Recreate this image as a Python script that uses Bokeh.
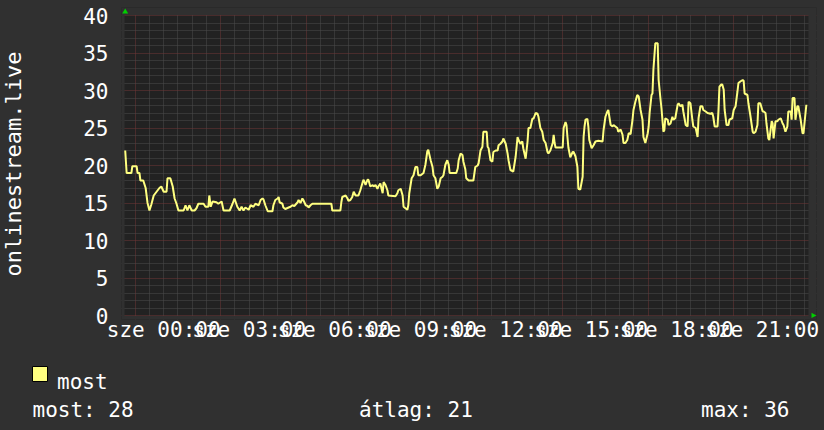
import math
from bokeh.plotting import figure
from bokeh.layouts import row, column
from bokeh.models import Range1d, FixedTicker
from bokeh.core.properties import value
from bokeh.embed import file_html
from bokeh.resources import INLINE

# ---------------- data ----------------
y_title = "onlinestream.live"
series_name = "most"
label_hours = [0, 3, 6, 9, 12, 15, 18, 21]
x_tick_labels = ["sze 00:00", "sze 03:00", "sze 06:00", "sze 09:00",
                 "sze 12:00", "sze 15:00", "sze 18:00", "sze 21:00"]
y_ticks = [0, 5, 10, 15, 20, 25, 30, 35, 40]
stat_names = ["most", "átlag", "max"]
stat_values = [28, 21, 36]

# minutes relative to Wednesday 00:00 (negative = previous evening)
minutes = [
    -81, -78, -68, -66, -57, -55, -51, -49, -43, -38, -34, -30, -26, -21, -15, -9, -5, 0, 6, 8,
    14, 19, 23, 27, 31, 42, 46, 50, 54, 59, 65, 69, 73, 84, 88, 94, 96, 99, 103, 111,
    115, 122, 126, 139, 145, 149,
    155, 160, 164, 168, 172, 179, 183, 189, 193, 200, 204, 208, 210, 214, 219, 229, 231, 235, 240, 242,
    244, 250, 252, 256, 263, 267, 271, 275, 282, 284, 288, 292, 294, 299, 303, 305, 309, 313, 353, 355,
    372, 374, 376, 383, 387, 389,
    393, 397, 400, 404, 410, 414, 419, 421, 425, 429, 431, 435, 440, 442, 446, 450, 452, 456, 461, 463,
    467, 471, 473, 488, 492, 494, 499, 503, 505, 509, 513, 515, 517, 522, 526, 530, 534, 536, 541, 547,
    551, 555, 557, 562, 566, 568, 572, 576, 579, 583, 587, 589, 593, 597, 600, 602, 616, 619, 621, 625,
    629, 631, 635,
    637, 642, 652, 656, 661, 663, 667, 671, 673, 680, 682, 684, 688, 692, 694, 699, 703, 705, 709, 713,
    715, 720, 724, 726, 730, 736, 741, 745, 747, 751, 755, 757, 762, 766, 768, 772, 776, 779, 783, 787,
    789, 793, 797, 800, 804, 808, 810, 814, 819, 821, 823, 825, 840, 842, 846, 848, 850, 852, 856, 861,
    863, 867, 871, 873, 877, 882, 884, 886,
    888, 892, 894, 896, 901, 905, 909, 915, 924, 926, 930, 934, 936, 941, 945, 947, 951, 955, 957, 962,
    966, 968, 972, 976, 979, 983, 987, 989, 993, 997, 1000, 1004, 1008, 1010, 1014, 1019, 1021, 1023, 1027, 1029,
    1031, 1035, 1040, 1042, 1046, 1048, 1050, 1052, 1054, 1056, 1061, 1063, 1067, 1071, 1073, 1077, 1082, 1084, 1088, 1092,
    1094, 1099, 1103, 1105, 1109, 1113, 1115, 1120,
    1124, 1126, 1130, 1134, 1136, 1141, 1145, 1151, 1155, 1157, 1160, 1166, 1168, 1170, 1174, 1176, 1179, 1181, 1185, 1189,
    1191, 1197, 1200, 1204, 1208, 1210, 1214, 1219, 1221, 1223, 1229, 1231, 1235, 1240, 1242, 1246, 1250, 1252, 1256, 1261,
    1263, 1267, 1269, 1273, 1275, 1280, 1282, 1284, 1288, 1292, 1294, 1299, 1303, 1305, 1309, 1313, 1315, 1320, 1322, 1324,
    1328, 1330, 1334, 1336, 1341, 1345, 1347, 1349, 1353,
]
values = [
    22.0, 19.0, 19.0, 19.9, 19.9, 19.0, 19.0, 18.0, 18.0, 17.0, 15.0, 14.0, 14.8, 16.0, 16.5, 17.0, 17.2, 16.5, 16.5, 18.3,
    18.3, 17.2, 15.6, 14.9, 14.0, 14.0, 14.7, 14.0, 14.7, 14.0, 14.0, 14.3, 14.9, 14.9, 14.5, 14.5, 16.0, 14.5, 15.2, 15.1,
    14.9, 15.2, 14.0, 14.0, 14.9, 15.6,
    14.5, 14.0, 14.5, 14.0, 14.4, 14.1, 14.7, 14.5, 14.9, 14.7, 15.4, 15.6, 15.5, 14.7, 13.9, 13.9, 14.7, 15.4, 15.6, 15.8,
    15.1, 14.9, 14.4, 14.2, 14.4, 14.5, 14.7, 14.6, 15.1, 15.4, 15.0, 15.6, 15.4, 14.7, 14.6, 14.4, 14.7, 14.9, 14.9, 14.0,
    14.0, 15.1, 15.8, 16.0, 15.6, 15.3,
    15.4, 15.8, 16.5, 16.0, 16.0, 16.7, 17.8, 18.1, 17.4, 18.1, 18.1, 17.2, 17.4, 17.2, 17.4, 16.9, 17.2, 17.6, 16.3, 17.8,
    17.4, 16.7, 16.0, 15.9, 16.3, 16.7, 16.9, 16.0, 14.5, 14.3, 14.1, 14.7, 16.3, 18.3, 18.7, 19.8, 19.8, 18.7, 18.7, 19.0,
    20.1, 21.9, 22.1, 20.7, 19.8, 18.7, 18.3, 16.9, 17.2, 18.3, 18.5, 18.7, 20.1, 20.7, 20.1, 19.0, 19.0, 19.6, 20.7, 21.6,
    21.4, 20.5, 19.5,
    18.3, 18.0, 18.0, 19.8, 20.0, 20.3, 22.0, 22.5, 24.5, 24.5, 22.5, 22.3, 20.7, 20.5, 21.8, 22.0, 22.0, 22.7, 22.9, 23.2,
    23.6, 22.9, 21.6, 20.7, 19.4, 19.2, 21.2, 23.8, 23.4, 22.9, 23.2, 22.3, 20.9, 23.2, 25.0, 25.0, 26.2, 26.3, 27.0, 26.9,
    26.5, 25.0, 24.5, 23.4, 23.0, 21.8, 21.6, 22.0, 23.0, 24.1, 23.0, 22.4, 22.4, 25.0, 25.8, 25.4, 23.8, 22.4, 21.1, 21.8,
    21.8, 21.2, 19.8, 16.9, 16.8, 18.5, 23.8, 25.2,
    26.1, 26.2, 25.2, 23.4, 22.3, 22.7, 23.2, 23.3, 23.2, 24.7, 26.5, 27.2, 27.4, 25.4, 25.2, 25.4, 25.2, 25.0, 24.5, 24.8,
    24.1, 23.0, 23.0, 23.4, 24.3, 24.2, 26.1, 27.4, 28.5, 29.4, 29.2, 27.4, 26.1, 23.8, 23.0, 24.3, 25.2, 27.0, 29.4, 29.6,
    32.8, 36.3, 36.3, 31.4, 28.8, 27.6, 26.1, 24.5, 24.7, 26.3, 26.1, 25.4, 25.6, 26.5, 26.1, 26.3, 28.1, 28.3, 27.9, 28.1,
    27.2, 25.4, 25.2, 28.5, 28.3, 26.1, 25.2, 25.0,
    23.8, 26.3, 27.9, 27.9, 27.4, 27.2, 27.0, 26.9, 27.0, 26.5, 25.2, 25.2, 27.4, 30.5, 30.8, 30.8, 30.1, 27.4, 25.4, 25.4,
    26.1, 26.3, 27.4, 27.9, 29.9, 31.0, 31.2, 31.4, 31.3, 29.6, 29.4, 28.3, 26.7, 24.5, 24.3, 24.5, 25.4, 28.3, 28.3, 27.2,
    27.2, 27.0, 25.6, 23.6, 23.4, 25.9, 25.6, 23.6, 25.9, 25.9, 26.1, 26.3, 25.6, 25.4, 24.5, 25.2, 27.2, 27.2, 26.1, 29.0,
    29.0, 26.1, 27.9, 27.9, 26.1, 24.3, 24.3, 25.6, 28.1,
]

# ---------------- layout / style ----------------
W, H = 824, 430
TITLE_W = 27          # strip holding the vertical title
TOP_H = 345           # height of the chart row; the legend strip fills the rest
LEG_H = H - TOP_H
# plotting area of the graph (page pixels) and the slightly larger drawing frame
PA_L, PA_R, PA_T, PA_B = 124, 808, 15, 315
FR_L, FR_R, FR_T, FR_B = 121, 816, 7, 319
X0, X1 = -82.5, 1357.5      # minutes shown across the plotting area
Y0, Y1 = 0, 40
FONT = "DejaVu Sans Mono"
FS = "21px"
TITLE_FS = "22px"
BG = "#303030"
PLOT_BG = "#222222"
MINOR_GRID = "#4c4c4c"
MAJOR_GRID = "#703636"
LINE_COLOR = "#ffff80"
ARROW = "#00d000"


def dx(page_x):
    return X0 + (page_x - PA_L) * (X1 - X0) / (PA_R - PA_L)


def dy(page_y):
    return Y0 + (PA_B - page_y) * (Y1 - Y0) / (PA_B - PA_T)


def strip_fig(w, h, top=0, bottom=0):
    f = figure(width=w, height=h, output_backend="svg", toolbar_location=None,
               x_range=Range1d(0, w), y_range=Range1d(0, h - top - bottom),
               x_axis_location=None, y_axis_location=None,
               min_border_left=0, min_border_right=0,
               min_border_top=top, min_border_bottom=bottom,
               background_fill_alpha=0, border_fill_alpha=0, outline_line_color=None)
    f.grid.visible = False
    return f


# ---- main chart ----
XL, XR, YB, YT = dx(FR_L), dx(FR_R), dy(FR_B), dy(FR_T)
p = figure(width=W - TITLE_W, height=TOP_H, output_backend="svg", toolbar_location=None,
           x_range=Range1d(XL, XR), y_range=Range1d(YB, YT),
           background_fill_color=PLOT_BG, border_fill_alpha=0,
           min_border_left=FR_L - TITLE_W, min_border_right=W - FR_R,
           min_border_top=FR_T, min_border_bottom=TOP_H - FR_B,
           outline_line_color=None)

x_major_grid = [m for m in range(-60, int(X1) + 1, 180)]
x_minor_grid = [m for m in range(-60, int(X1) + 1, 30) if m not in x_major_grid]
y_major_grid = list(y_ticks)
y_minor_grid = [v for v in range(0, 41) if v not in y_major_grid]

p.xgrid.ticker = FixedTicker(ticks=x_major_grid, minor_ticks=x_minor_grid)
p.ygrid.ticker = FixedTicker(ticks=y_major_grid, minor_ticks=y_minor_grid)
for g in (p.xgrid, p.ygrid):
    g.grid_line_color = MAJOR_GRID
    g.grid_line_dash = "1 1"
    g.grid_line_width = 1
    g.minor_grid_line_color = MINOR_GRID
    g.minor_grid_line_dash = "1 1"
    g.minor_grid_line_width = 1

p.xaxis.ticker = FixedTicker(ticks=[h * 60 for h in label_hours])
p.xaxis.major_label_overrides = {h * 60: lab for h, lab in zip(label_hours, x_tick_labels)}
p.yaxis.ticker = FixedTicker(ticks=y_ticks)
for ax in (p.xaxis, p.yaxis):
    ax.axis_line_color = None
    ax.major_tick_line_color = None
    ax.minor_tick_line_color = None
    ax.major_tick_out = 0
    ax.major_tick_in = 0
    ax.minor_tick_out = 0
    ax.minor_tick_in = 0
    ax.major_label_text_font = FONT
    ax.major_label_text_font_size = FS
    ax.major_label_text_color = "white"
p.xaxis.major_label_standoff = 2 - (FR_B - PA_B)
p.yaxis.major_label_standoff = 16 - (PA_L - FR_L)

# canvas-coloured margins around the plotting area (inside the drawing frame)
half = 0.5
p.quad(left=[XL, dx(PA_R), XL, XL], right=[dx(PA_L), XR, XR, XR],
       bottom=[YB, YB, dy(PA_T - half), YB], top=[YT, YT, YT, dy(PA_B + half)],
       fill_color=BG, line_color=None)

p.line(minutes, values, line_color=LINE_COLOR, line_width=2)

# small green axis arrows
p.patch([dx(121.7), dx(124.7), dx(127.7)], [dy(12.9), dy(8.0), dy(12.9)],
        fill_color=ARROW, line_color=None)
p.patch([dx(811), dx(816), dx(811)], [dy(312.2), dy(314.9), dy(317.6)],
        fill_color=ARROW, line_color=None)

# ---- vertical title strip (frame aligned with the chart frame) ----
t = strip_fig(TITLE_W, TOP_H, top=FR_T, bottom=TOP_H - FR_B)
t.text(x=[13.3], y=[FR_B - 163.5], text=[y_title], angle=math.pi / 2,
       text_align="center", text_baseline="middle",
       text_font=value(FONT), text_font_size=value(TITLE_FS), text_color="white")

# ---- legend strip ----
lg = strip_fig(W, LEG_H)
lg.quad(left=[32], right=[47], top=[H - 366], bottom=[H - 381],
        fill_color=LINE_COLOR, line_color="black", line_width=1)
lg.text(x=[56.5], y=[H - 381], text=[series_name], text_align="left",
        text_baseline="alphabetic", text_font=value(FONT), text_font_size=value(FS),
        text_color="white")
stat_x = [32, 358.5, 700.5]
lg.text(x=stat_x, y=[H - 409.5] * 3,
        text=[f"{n}: {v}" for n, v in zip(stat_names, stat_values)],
        text_align="left", text_baseline="alphabetic",
        text_font=value(FONT), text_font_size=value(FS), text_color="white")

layout = column(row(t, p, styles={"background-color": BG}), lg,
                styles={"background-color": BG})
html = file_html(layout, INLINE, title=y_title)
open("out.html", "w").write(html)
